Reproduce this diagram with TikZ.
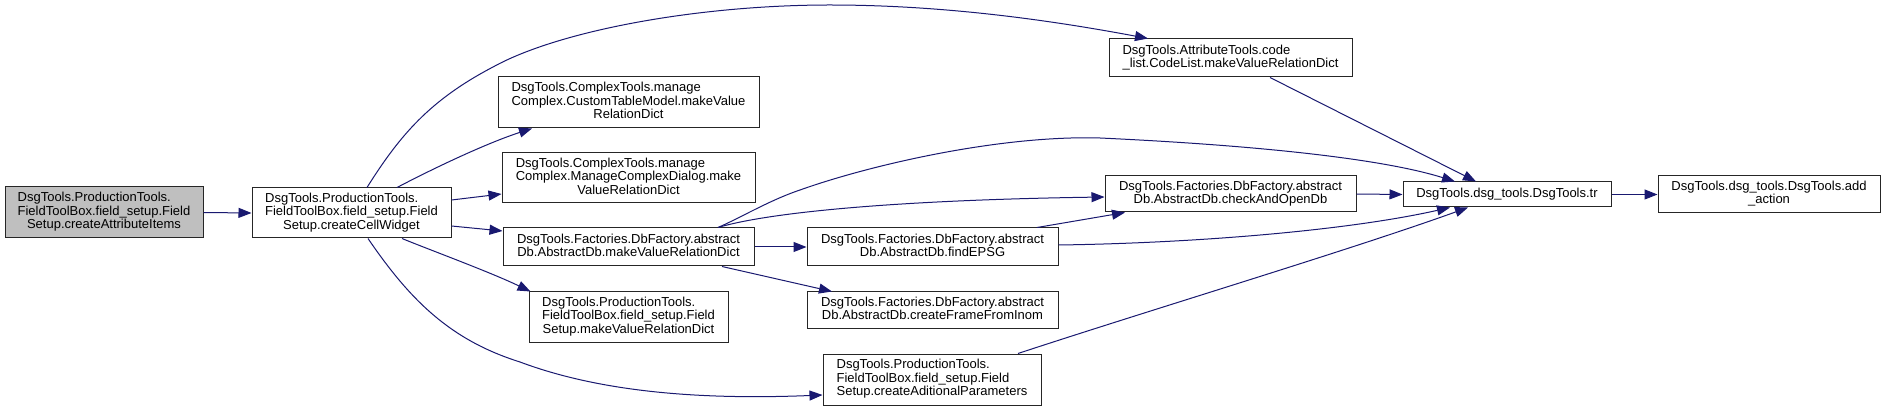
\documentclass[tikz,border=0pt]{standalone}
\usepackage{fontspec}
\newfontfamily\dfont{Liberation Sans}
\usetikzlibrary{arrows.meta}
\definecolor{edgeblue}{RGB}{25,25,112}
\definecolor{boxgray}{RGB}{191,191,191}
\newcommand{\dlab}[2]{\begin{tabular}{@{}l@{}}#1\\\multicolumn{1}{@{}c@{}}{#2}\end{tabular}}
\begin{document}
\begin{tikzpicture}[x=1pt,y=-1pt,
  fbox/.style={draw=black!85, line width=1pt, rectangle, inner sep=0pt, fill=white,
    font=\dfont\fontsize{13}{13}\selectfont, align=center},
  edge/.style={draw=edgeblue, line width=1pt, -{Triangle[length=13pt,width=10pt]}, color=edgeblue}]
\useasboundingbox (0,0) rectangle (1886,411);
\fill[white] (0,0) rectangle (1886,411);

\node[fbox, fill=boxgray, minimum width=198pt, minimum height=51pt] (A) at (104,212.5)
  {\dlab{DsgTools.ProductionTools.\\FieldToolBox.field\_setup.Field}{Setup.createAttributeItems}};
\node[fbox, minimum width=199pt, minimum height=50pt] (B) at (351.5,213)
  {\dlab{DsgTools.ProductionTools.\\FieldToolBox.field\_setup.Field}{Setup.createCellWidget}};
\node[fbox, minimum width=261pt, minimum height=51pt] (C) at (628.5,102.5)
  {\dlab{DsgTools.ComplexTools.manage\\Complex.CustomTableModel.makeValue}{RelationDict}};
\node[fbox, minimum width=253pt, minimum height=50pt] (D) at (628.5,178)
  {\dlab{DsgTools.ComplexTools.manage\\Complex.ManageComplexDialog.make}{ValueRelationDict}};
\node[fbox, minimum width=251pt, minimum height=38pt] (E) at (628.5,247)
  {\dlab{DsgTools.Factories.DbFactory.abstract}{Db.AbstractDb.makeValueRelationDict}};
\node[fbox, minimum width=199pt, minimum height=50pt] (L) at (628.5,317)
  {\dlab{DsgTools.ProductionTools.\\FieldToolBox.field\_setup.Field}{Setup.makeValueRelationDict}};
\node[fbox, minimum width=251pt, minimum height=38pt] (F) at (932.5,247)
  {\dlab{DsgTools.Factories.DbFactory.abstract}{Db.AbstractDb.findEPSG}};
\node[fbox, minimum width=251pt, minimum height=37pt] (K) at (932.5,310.5)
  {\dlab{DsgTools.Factories.DbFactory.abstract}{Db.AbstractDb.createFrameFromInom}};
\node[fbox, minimum width=218pt, minimum height=51pt] (M) at (932,379.5)
  {\dlab{DsgTools.ProductionTools.\\FieldToolBox.field\_setup.Field}{Setup.createAditionalParameters}};
\node[fbox, minimum width=243pt, minimum height=38pt] (G) at (1230.5,58)
  {\dlab{DsgTools.AttributeTools.code}{\_list.CodeList.makeValueRelationDict}};
\node[fbox, minimum width=251pt, minimum height=36pt] (H) at (1230.5,194)
  {\dlab{DsgTools.Factories.DbFactory.abstract}{Db.AbstractDb.checkAndOpenDb}};
\node[fbox, minimum width=208pt, minimum height=25pt] (I) at (1507,194.5)
  {DsgTools.dsg\_tools.DsgTools.tr};
\node[fbox, minimum width=222pt, minimum height=37pt] (J) at (1769,194.5)
  {\dlab{DsgTools.dsg\_tools.DsgTools.add}{\_action}};

% edges
\draw[edge] (A.east) -- (B.west);
\draw[edge] ([xshift=15.5pt]B.north) .. controls (400,135) and (430,100) .. (493,67)
  .. controls (560,30) and (700,5) .. (830,5)
  .. controls (950,5) and (1060,22) .. ([xshift=-82.5pt]G.north);
\draw[edge] ([xshift=45.5pt]B.north) .. controls (440,165) and (490,142) .. ([xshift=-96.5pt]C.south);
\draw[edge] ([yshift=13pt]B.east) -- ([yshift=-16pt]D.west);
\draw[edge] ([yshift=-13pt]B.east) -- ([yshift=16pt]E.west);
\draw[edge] ([xshift=50.5pt]B.south) .. controls (430,250) and (490,272) .. ([xshift=-98pt]L.north);
\draw[edge] ([xshift=16.5pt]B.south) .. controls (410,300) and (450,340) .. (520,362)
  .. controls (600,392) and (700,400) .. ([yshift=-15.5pt]M.west);
\draw[edge] (E.east) -- (F.west);
\draw[edge] ([xshift=93.5pt]E.south) -- ([xshift=-100.5pt]K.north);
\draw[edge] ([xshift=89.5pt]E.north) .. controls (770,212) and (900,200) .. ([yshift=-3pt]H.west);
\draw[edge] ([xshift=89.5pt]E.north) .. controls (740,218) and (770,200) .. (800,190)
  .. controls (870,165) and (1000,135) .. (1100,138)
  .. controls (1250,145) and (1380,158) .. ([xshift=-52pt]I.north);
\draw[edge] ([xshift=104.5pt]F.north) -- ([xshift=-105.5pt]H.south);
\draw[edge] ([yshift=2pt]F.east) .. controls (1200,243) and (1350,230) .. ([xshift=-57pt]I.south);
\draw[edge] (H.east) -- (I.west);
\draw[edge] ([xshift=39.5pt]G.south) -- ([xshift=-31pt]I.north);
\draw[edge] ([xshift=86pt]M.north) .. controls (1150,310) and (1350,250) .. ([xshift=-39pt]I.south);
\draw[edge] (I.east) -- (J.west);
\end{tikzpicture}
\end{document}
